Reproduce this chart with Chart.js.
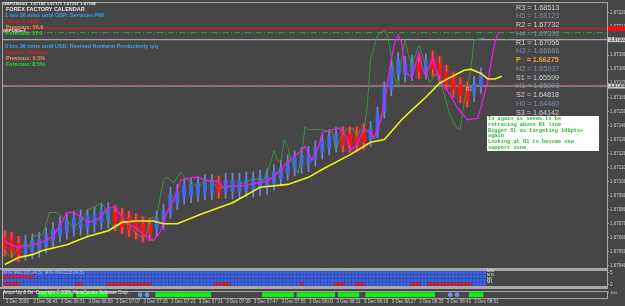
<!DOCTYPE html>
<html>
<head>
<meta charset="utf-8">
<script src="https://cdn.jsdelivr.net/npm/chart.js@4.4.1/dist/chart.umd.min.js"></script>
<style>
  html, body { margin: 0; padding: 0; background: #464646; }
  #wrap { position: relative; width: 625px; height: 306px; overflow: hidden; background: #464646; font-family: 'Liberation Sans', Arial, sans-serif; }
  canvas { position: absolute; left: 0; }
  .t { position: absolute; white-space: pre; line-height: 1; z-index: 5; }
  .cal { font-weight: bold; font-size: 5.5px; }
  .sep { position: absolute; left: 0; width: 608px; height: 2px; background: #a8a8a8; z-index: 4; }
  #pivots { position: absolute; left: 516px; top: 3.6px; font-size: 7.2px; line-height: 8.75px; white-space: pre; z-index: 5; }
  #note { position: absolute; left: 487px; top: 116px; width: 110px; height: 33px; background: #fff; padding: 1px;
          font: bold 5.3px/5.8px 'Liberation Mono', monospace; color: #2db82d; white-space: pre; z-index: 5; }
</style>
</head>
<body>
<div id="wrap">
  <canvas id="main" width="625" height="269" style="top:0"></canvas>
  <canvas id="macd" width="625" height="18" style="top:269px"></canvas>
  <canvas id="aroon" width="625" height="18" style="top:288px"></canvas>
  <div class="sep" style="top:268px"></div>
  <div class="sep" style="top:287px"></div>

  <div class="t" style="left:3px;top:1.5px;font-size:4.3px;font-weight:bold;color:#f0f0f0">GBPUSDm1  1.67160 1.67171 1.67157 1.67168</div>
  <div class="t cal" style="left:6px;top:7.2px;color:#e6e6e6">FOREX FACTORY CALENDAR</div>
  <div class="t cal" style="left:5px;top:13.2px;color:#2ea6e8">1 hrs 36 mins until GBP: Services PMI</div>
  <div class="t cal" style="left:6px;top:19.2px;color:#e01c1c">Impact: High</div>
  <div class="t cal" style="left:6px;top:25.2px;color:#dc9c5c">Previous: 56.9</div>
  <div class="t" style="left:3px;top:28.5px;font-size:4px;font-weight:bold;color:#f0f0f0">GBPUSDm1</div>
  <div class="t cal" style="left:6px;top:31.2px;color:#2ed82e">Forecast: 57.1</div>
  <div class="t cal" style="left:5px;top:44.2px;color:#2ea6e8">5 hrs 36 mins until USD: Revised Nonfarm Productivity q/q</div>
  <div class="t cal" style="left:6px;top:50.2px;color:#e01c1c">Impact: Medium</div>
  <div class="t cal" style="left:6px;top:56px;color:#dc9c5c">Previous: 9.5%</div>
  <div class="t cal" style="left:6px;top:62px;color:#2ed82e">Forecast: 8.5%</div>

  <div id="pivots"></div>
  <div class="t" style="left:505px;top:38px;font-size:4px;color:#3ec03e">&#9658;</div>
  <div class="t" style="left:551px;top:38px;font-size:4px;color:#3ec03e">&#9668;</div>
  <div class="t" style="left:466px;top:86.5px;font-size:5px;color:#c8c8c8">R1</div>

  <div id="note">In again as seems to be
retracing above R1 line
Bigger SL as targeting 100pts+
again
Looking at R1 to become new
support zone</div>

  <div class="t" style="left:3px;top:271px;font-size:4.5px;color:#aabcff">MTF MACD(5,34,5)  MTF MACD(5,34,5)</div>
  <div class="t" style="left:487px;top:270.4px;font-size:3.8px;line-height:3.6px;color:#f0f0f0">M30
M15
M5
M1</div>
  <div class="t" style="left:3px;top:290.8px;font-size:4.5px;color:#f4f4f4">Aroon Up &amp; Dn  Copyright © 2006, MetaQuotes Software Corp.</div>
</div>

<script>
// price axis (main panel), one label per pip
const priceTicks = [1.6722, 1.6721, 1.6720, 1.6719, 1.6718, 1.6717, 1.6716, 1.6715, 1.6714, 1.6713,
                    1.6712, 1.6711, 1.6710, 1.6709, 1.6708, 1.6707, 1.6706, 1.6705, 1.6704];

// time axis, label every 8 one-minute bars
const timeTickIdx = [0, 8, 16, 24, 32, 40, 48, 56, 64, 72, 80, 88, 96, 104, 112, 120, 128, 136];
const timeLabels = ['3 Dec 2009', '3 Dec 06:43', '3 Dec 06:51', '3 Dec 06:59', '3 Dec 07:07', '3 Dec 07:15',
  '3 Dec 07:23', '3 Dec 07:31', '3 Dec 07:39', '3 Dec 07:47', '3 Dec 07:55', '3 Dec 08:03', '3 Dec 08:11',
  '3 Dec 08:19', '3 Dec 08:27', '3 Dec 08:35', '3 Dec 08:43', '3 Dec 08:51'];

// heiken ashi style candles, one every 2 bars
const candleStep = 2;
const candleOpen = [1.67060, 1.67059, 1.67056, 1.67049, 1.67050, 1.67051, 1.67054, 1.67058, 1.67062, 1.67064,
  1.67066, 1.67067, 1.67067, 1.67069, 1.67071, 1.67072, 1.67078, 1.67076, 1.67074, 1.67072,
  1.67070, 1.67069, 1.67066, 1.67071, 1.67079, 1.67085, 1.67089, 1.67090, 1.67091, 1.67092,
  1.67092, 1.67099, 1.67093, 1.67093, 1.67093, 1.67094, 1.67094, 1.67095, 1.67096, 1.67099,
  1.67102, 1.67106, 1.67109, 1.67111, 1.67112, 1.67116, 1.67121, 1.67124, 1.67126, 1.67134,
  1.67134, 1.67134, 1.67136, 1.67130, 1.67136, 1.67150, 1.67166, 1.67177, 1.67176, 1.67177,
  1.67184, 1.67178, 1.67188, 1.67184, 1.67178, 1.67173, 1.67169, 1.67166, 1.67162, 1.67168];
const candleClose = [1.67052, 1.67051, 1.67048, 1.67057, 1.67058, 1.67059, 1.67062, 1.67066, 1.67070, 1.67072,
  1.67074, 1.67075, 1.67075, 1.67077, 1.67079, 1.67080, 1.67070, 1.67068, 1.67066, 1.67064,
  1.67062, 1.67063, 1.67074, 1.67079, 1.67091, 1.67093, 1.67097, 1.67098, 1.67099, 1.67100,
  1.67100, 1.67093, 1.67101, 1.67101, 1.67101, 1.67102, 1.67102, 1.67103, 1.67104, 1.67107,
  1.67110, 1.67114, 1.67117, 1.67119, 1.67120, 1.67124, 1.67129, 1.67132, 1.67134, 1.67126,
  1.67126, 1.67126, 1.67128, 1.67138, 1.67148, 1.67166, 1.67182, 1.67187, 1.67184, 1.67185,
  1.67178, 1.67186, 1.67180, 1.67176, 1.67170, 1.67165, 1.67161, 1.67158, 1.67170, 1.67176];
const candleHigh = [1.67065, 1.67064, 1.67061, 1.67062, 1.67063, 1.67064, 1.67067, 1.67071, 1.67075, 1.67077,
  1.67079, 1.67080, 1.67080, 1.67082, 1.67084, 1.67085, 1.67083, 1.67081, 1.67079, 1.67077,
  1.67075, 1.67074, 1.67079, 1.67084, 1.67096, 1.67098, 1.67102, 1.67103, 1.67104, 1.67105,
  1.67105, 1.67104, 1.67106, 1.67106, 1.67106, 1.67107, 1.67107, 1.67108, 1.67109, 1.67112,
  1.67115, 1.67119, 1.67122, 1.67124, 1.67125, 1.67129, 1.67134, 1.67137, 1.67139, 1.67139,
  1.67139, 1.67139, 1.67141, 1.67143, 1.67153, 1.67171, 1.67187, 1.67192, 1.67189, 1.67190,
  1.67189, 1.67191, 1.67193, 1.67189, 1.67183, 1.67178, 1.67174, 1.67171, 1.67175, 1.67181];
const candleLow = [1.67047, 1.67046, 1.67043, 1.67044, 1.67045, 1.67046, 1.67049, 1.67053, 1.67057, 1.67059,
  1.67061, 1.67062, 1.67062, 1.67064, 1.67066, 1.67067, 1.67065, 1.67063, 1.67061, 1.67059,
  1.67057, 1.67058, 1.67061, 1.67066, 1.67074, 1.67080, 1.67084, 1.67085, 1.67086, 1.67087,
  1.67087, 1.67088, 1.67088, 1.67088, 1.67088, 1.67089, 1.67089, 1.67090, 1.67091, 1.67094,
  1.67097, 1.67101, 1.67104, 1.67106, 1.67107, 1.67111, 1.67116, 1.67119, 1.67121, 1.67121,
  1.67121, 1.67121, 1.67123, 1.67125, 1.67131, 1.67145, 1.67161, 1.67172, 1.67171, 1.67172,
  1.67173, 1.67173, 1.67175, 1.67171, 1.67165, 1.67160, 1.67156, 1.67153, 1.67157, 1.67163];

// indicator lines: [bar index, price]
const maLine = [[0, 1.67041], [4, 1.67046], [8, 1.67048], [11, 1.67051], [18, 1.67055], [24, 1.67061],
  [30, 1.67065], [34, 1.67071], [38, 1.67072], [43, 1.67072], [46, 1.67070], [50, 1.67070], [57, 1.67077],
  [66, 1.67085], [74, 1.67096], [82, 1.67098], [88, 1.67103], [93, 1.67110], [100, 1.67119], [106, 1.67128],
  [110, 1.67130], [115, 1.67144], [118, 1.67151], [122, 1.67160], [126, 1.67170], [129, 1.67174],
  [133, 1.67179], [135, 1.67180], [138, 1.67177], [140, 1.67173], [142, 1.67173], [144, 1.67175]];
const magentaLine = [[0, 1.67058], [1, 1.67056], [4, 1.67053], [6, 1.67054], [10, 1.67056], [14, 1.67061],
  [17, 1.67073], [18, 1.67078], [20, 1.67078], [22, 1.67075], [24, 1.67071], [27, 1.67073], [30, 1.67081],
  [32, 1.67082], [33, 1.67078], [35, 1.67071], [38, 1.67067], [41, 1.67061], [43, 1.67058], [45, 1.67064],
  [47, 1.67078], [49, 1.67087], [51, 1.67101], [54, 1.67103], [56, 1.67103], [58, 1.67101], [62, 1.67100],
  [63, 1.67096], [66, 1.67097], [69, 1.67097], [73, 1.67099], [76, 1.67100], [79, 1.67106], [82, 1.67114],
  [85, 1.67120], [87, 1.67125], [89, 1.67115], [91, 1.67125], [92, 1.67135], [95, 1.67137], [97, 1.67138],
  [99, 1.67132], [100, 1.67122], [102, 1.67126], [104, 1.67137], [106, 1.67135], [107, 1.67131],
  [109, 1.67144], [110, 1.67158], [111, 1.67172], [112, 1.67187], [113, 1.67199], [114, 1.67204],
  [115, 1.67199], [116, 1.67178], [118, 1.67174], [120, 1.67192], [121, 1.67181], [122, 1.67175],
  [124, 1.67188], [126, 1.67172], [129, 1.67162], [131, 1.67153], [134, 1.67144], [137, 1.67145],
  [138, 1.67153], [140, 1.67172], [142, 1.67199], [143, 1.67206]];
const greenLine = [[0, 1.67051], [1, 1.67048], [2, 1.67046], [4, 1.67053], [6, 1.67056], [7, 1.67053],
  [8, 1.67061], [11, 1.67062], [13, 1.67078], [15, 1.67078], [17, 1.67074], [20, 1.67068], [22, 1.67071],
  [24, 1.67080], [26, 1.67082], [28, 1.67085], [29, 1.67081], [30, 1.67073], [32, 1.67066], [34, 1.67073],
  [36, 1.67068], [37, 1.67066], [39, 1.67061], [41, 1.67061], [42, 1.67074], [44, 1.67075], [46, 1.67101],
  [47, 1.67103], [49, 1.67099], [51, 1.67107], [52, 1.67103], [54, 1.67100], [56, 1.67096], [58, 1.67101],
  [60, 1.67100], [62, 1.67095], [64, 1.67096], [67, 1.67097], [71, 1.67101], [74, 1.67102], [75, 1.67101],
  [77, 1.67113], [78, 1.67122], [79, 1.67115], [80, 1.67114], [81, 1.67130], [82, 1.67125], [83, 1.67115],
  [85, 1.67106], [86, 1.67118], [87, 1.67139], [88, 1.67137], [91, 1.67137], [92, 1.67137], [95, 1.67135],
  [96, 1.67122], [97, 1.67130], [99, 1.67137], [101, 1.67138], [102, 1.67132], [103, 1.67137], [104, 1.67135],
  [105, 1.67153], [106, 1.67187], [108, 1.67204], [110, 1.67208], [111, 1.67203], [112, 1.67189],
  [113, 1.67174], [114, 1.67167], [115, 1.67187], [116, 1.67201], [117, 1.67190], [118, 1.67183],
  [120, 1.67197], [122, 1.67182], [123, 1.67170], [125, 1.67177], [127, 1.67165], [129, 1.67147],
  [131, 1.67138], [132, 1.67137], [133, 1.67155], [135, 1.67179], [136, 1.67201], [139, 1.67202]];

// horizontal levels drawn across the main panel
const levelRed = 1.67209;
const levelGreen = 1.67206;
const levelGray = 1.67201;
const levelRedDash = 1.67169;
const levelBid = 1.67168;

// daily pivots printed top right
const pivotNames = ['R3', 'H5', 'R2', 'H4', 'R1', 'H3', 'P  ', 'H2', 'S1', 'H1', 'S2', 'H0', 'S3'];
const pivotValues = ['1.68513', '1.68123', '1.67732', '1.67393', '1.67056', '1.66666', '1.66275',
                     '1.65937', '1.65599', '1.65203', '1.64818', '1.64480', '1.64142'];

// MTF MACD panel: runs of red (bearish) bars per timeframe row
const lastBar = 139;
const redM30 = [];
const redM15 = [[0, 8]];
const redM5 = [];
const redM1 = [[0, 4], [21, 22], [30, 42], [61, 65], [86, 86], [96, 98], [102, 104], [118, 120], [123, 135]];
const macdTicks = [0.4, 3.6];
const macdTickLabels = ['0', '5'];

// Aroon panel
const aroonRuns = [[10, 19], [21, 29], [44, 59], [75, 83], [85, 95], [97, 102], [105, 124], [135, 138]];
const aroonDots = [39, 41, 129, 131];
const aroonTicks = [100, 0];

Chart.defaults.font.family = "'Liberation Sans', Arial, sans-serif";
Chart.defaults.animation = false;
Chart.defaults.plugins.legend.display = false;
Chart.defaults.plugins.tooltip.enabled = false;

const X_MIN = -0.5, X_MAX = 174.5;
const axisColor = '#a6a6a6';
const labelColor = '#cfcfcf';

const frame = {
  id: 'frame',
  afterDraw(chart) {
    const { ctx, chartArea: a } = chart;
    ctx.save();
    ctx.strokeStyle = axisColor;
    ctx.lineWidth = 1;
    ctx.strokeRect(Math.round(a.left) - 0.5, Math.round(a.top) - 0.5,
      Math.round(a.right - a.left) + 1, Math.round(a.bottom - a.top) + 1);
    ctx.restore();
  }
};

const markerLevels = [levelRed, levelGray, levelBid];
const markerColors = ['#ee1111', '#c9c9c9', '#c9c9c9'];
const priceMarkers = {
  id: 'priceMarkers',
  afterDraw(chart) {
    const { ctx, chartArea: a, scales: { y } } = chart;
    ctx.save();
    markerLevels.forEach((v, i) => {
      const py = y.getPixelForValue(v);
      ctx.fillStyle = markerColors[i];
      ctx.fillRect(a.right + 1, py - 2.5, 20, 5);
      if (i > 0) {
        ctx.fillStyle = '#202020';
        ctx.font = "4.5px 'Liberation Sans'";
        ctx.textBaseline = 'middle';
        ctx.fillText(v.toFixed(5), a.right + 3, py);
      }
    });
    ctx.restore();
  }
};

function rightAxis(extra) {
  return Object.assign({
    position: 'right',
    border: { display: false },
    grid: { drawOnChartArea: false, drawTicks: true, tickLength: 2, color: axisColor },
    ticks: { font: { size: 4.5 }, color: labelColor, padding: 1 },
    afterFit(scale) { scale.width = 18; scale.paddingTop = 0; scale.paddingBottom = 0; }
  }, extra);
}

function hiddenX() {
  return { type: 'linear', min: X_MIN, max: X_MAX, offset: false, display: false };
}

function levelLine(value, color, width, dash) {
  return {
    type: 'line', data: [{ x: X_MIN, y: value }, { x: X_MAX, y: value }],
    borderColor: color, borderWidth: width, borderDash: dash, pointRadius: 0
  };
}

function indicatorLine(points, color, width) {
  return {
    type: 'line', data: points.map(([x, y]) => ({ x, y })),
    borderColor: color, borderWidth: width, pointRadius: 0, tension: 0, fill: false
  };
}

// main panel
const isUp = candleOpen.map((o, k) => candleClose[k] >= o);
const bodyData = candleOpen.map((o, k) => ({ x: k * candleStep, y: [o, candleClose[k]] }));
const wickData = candleOpen.map((o, k) => ({ x: k * candleStep, y: [candleLow[k], candleHigh[k]] }));
const glowData = wickData.filter((d, k) => !isUp[k]);

new Chart(document.getElementById('main'), {
  type: 'bar',
  data: {
    datasets: [
      indicatorLine(maLine, '#f2f21a', 1.6),
      indicatorLine(magentaLine, '#e81ee8', 1.3),
      indicatorLine(greenLine, '#3fa33f', 0.8),
      { data: bodyData, grouped: false, barThickness: 3.2, borderWidth: 0,
        backgroundColor: isUp.map(u => u ? '#4268e6' : '#ff1414') },
      { data: wickData, grouped: false, barThickness: 1, borderWidth: 0,
        backgroundColor: isUp.map(u => u ? '#7486dc' : '#ff4a4a') },
      { data: glowData, grouped: false, barThickness: 6, borderWidth: 0,
        backgroundColor: 'rgba(255,40,40,0.28)' },
      levelLine(levelRed, '#b82424', 1.5, []),
      levelLine(levelGreen, '#3fa03f', 1, [6, 2, 1, 2]),
      levelLine(levelGray, '#b8b8b8', 1, []),
      levelLine(levelRedDash, '#ab2c2c', 1, [3, 3]),
      levelLine(levelBid, '#b8b8b8', 1, [])
    ]
  },
  options: {
    responsive: false,
    devicePixelRatio: 1,
    layout: { padding: { left: 3, top: 3, right: 0, bottom: 1 } },
    scales: {
      x: hiddenX(),
      y: rightAxis({
        min: 1.670385, max: 1.672271,
        afterBuildTicks(scale) { scale.ticks = priceTicks.map(value => ({ value })); },
        ticks: { font: { size: 4.5 }, color: labelColor, padding: 1, callback: v => v.toFixed(5) }
      })
    }
  },
  plugins: [frame, priceMarkers]
});

// MTF MACD panel
function macdLane(lane, runs) {
  const data = [], colors = [];
  for (let i = 0; i <= lastBar; i++) {
    data.push({ x: i, y: [lane, lane + 1] });
    colors.push(runs.some(([a, b]) => i >= a && i <= b) ? '#e21c1c' : '#3d63dc');
  }
  return { data, backgroundColor: colors, grouped: false, barPercentage: 1, categoryPercentage: 1,
           borderWidth: 0.6, borderColor: '#2b48ad', borderSkipped: false };
}

new Chart(document.getElementById('macd'), {
  type: 'bar',
  data: { datasets: [macdLane(0, redM1), macdLane(1, redM5), macdLane(2, redM15), macdLane(3, redM30)] },
  options: {
    responsive: false,
    devicePixelRatio: 1,
    layout: { padding: { left: 3, top: 2, right: 0, bottom: 1 } },
    scales: {
      x: hiddenX(),
      y: rightAxis({
        min: 0, max: 4,
        afterBuildTicks(scale) { scale.ticks = macdTicks.map(value => ({ value })); },
        ticks: { font: { size: 4.5 }, color: labelColor, padding: 1,
                 callback: (v, i) => macdTickLabels[i] }
      })
    }
  },
  plugins: [frame]
});

// Aroon panel + time axis
const aroonBars = [];
aroonRuns.forEach(([a, b]) => { for (let i = a; i <= b; i++) aroonBars.push({ x: i, y: [0, 100] }); });

new Chart(document.getElementById('aroon'), {
  type: 'bar',
  data: {
    datasets: [
      { type: 'scatter', data: aroonDots.map(x => ({ x, y: 50 })), pointRadius: 2.4,
        pointBackgroundColor: '#6f90e8', pointBorderWidth: 0 },
      { data: aroonBars, backgroundColor: '#12f012', grouped: false, barPercentage: 1,
        categoryPercentage: 1, borderWidth: 0 }
    ]
  },
  options: {
    responsive: false,
    devicePixelRatio: 1,
    layout: { padding: { left: 3, top: 1.5, right: 0, bottom: 0 } },
    scales: {
      x: {
        type: 'linear', min: X_MIN, max: X_MAX, offset: false,
        border: { display: false },
        grid: { drawOnChartArea: false, drawTicks: true, tickLength: 2, color: axisColor },
        afterBuildTicks(scale) { scale.ticks = timeTickIdx.map(value => ({ value })); },
        afterFit(scale) { scale.height = 8.5; scale.paddingLeft = 0; scale.paddingRight = 0; },
        ticks: { font: { size: 4.5 }, color: labelColor, padding: 0, align: 'start',
                 autoSkip: false, maxRotation: 0, minRotation: 0,
                 callback: (v, i) => timeLabels[i] }
      },
      y: rightAxis({
        min: -15, max: 115,
        afterBuildTicks(scale) { scale.ticks = aroonTicks.map(value => ({ value })); },
        ticks: { font: { size: 4 }, color: labelColor, padding: 1, callback: v => String(v) }
      })
    }
  },
  plugins: [frame]
});

// pivot table
const pivotBox = document.getElementById('pivots');
pivotNames.forEach((name, i) => {
  const span = document.createElement('div');
  const kind = name.trim();
  span.textContent = `${name} = ${pivotValues[i]}`;
  span.style.color = kind === 'P' ? '#f0a830' : (kind[0] === 'H' ? '#7d90ad' : '#d2d2d2');
  if (kind === 'P') span.style.fontWeight = 'bold';
  pivotBox.appendChild(span);
});
</script>
</body>
</html>
